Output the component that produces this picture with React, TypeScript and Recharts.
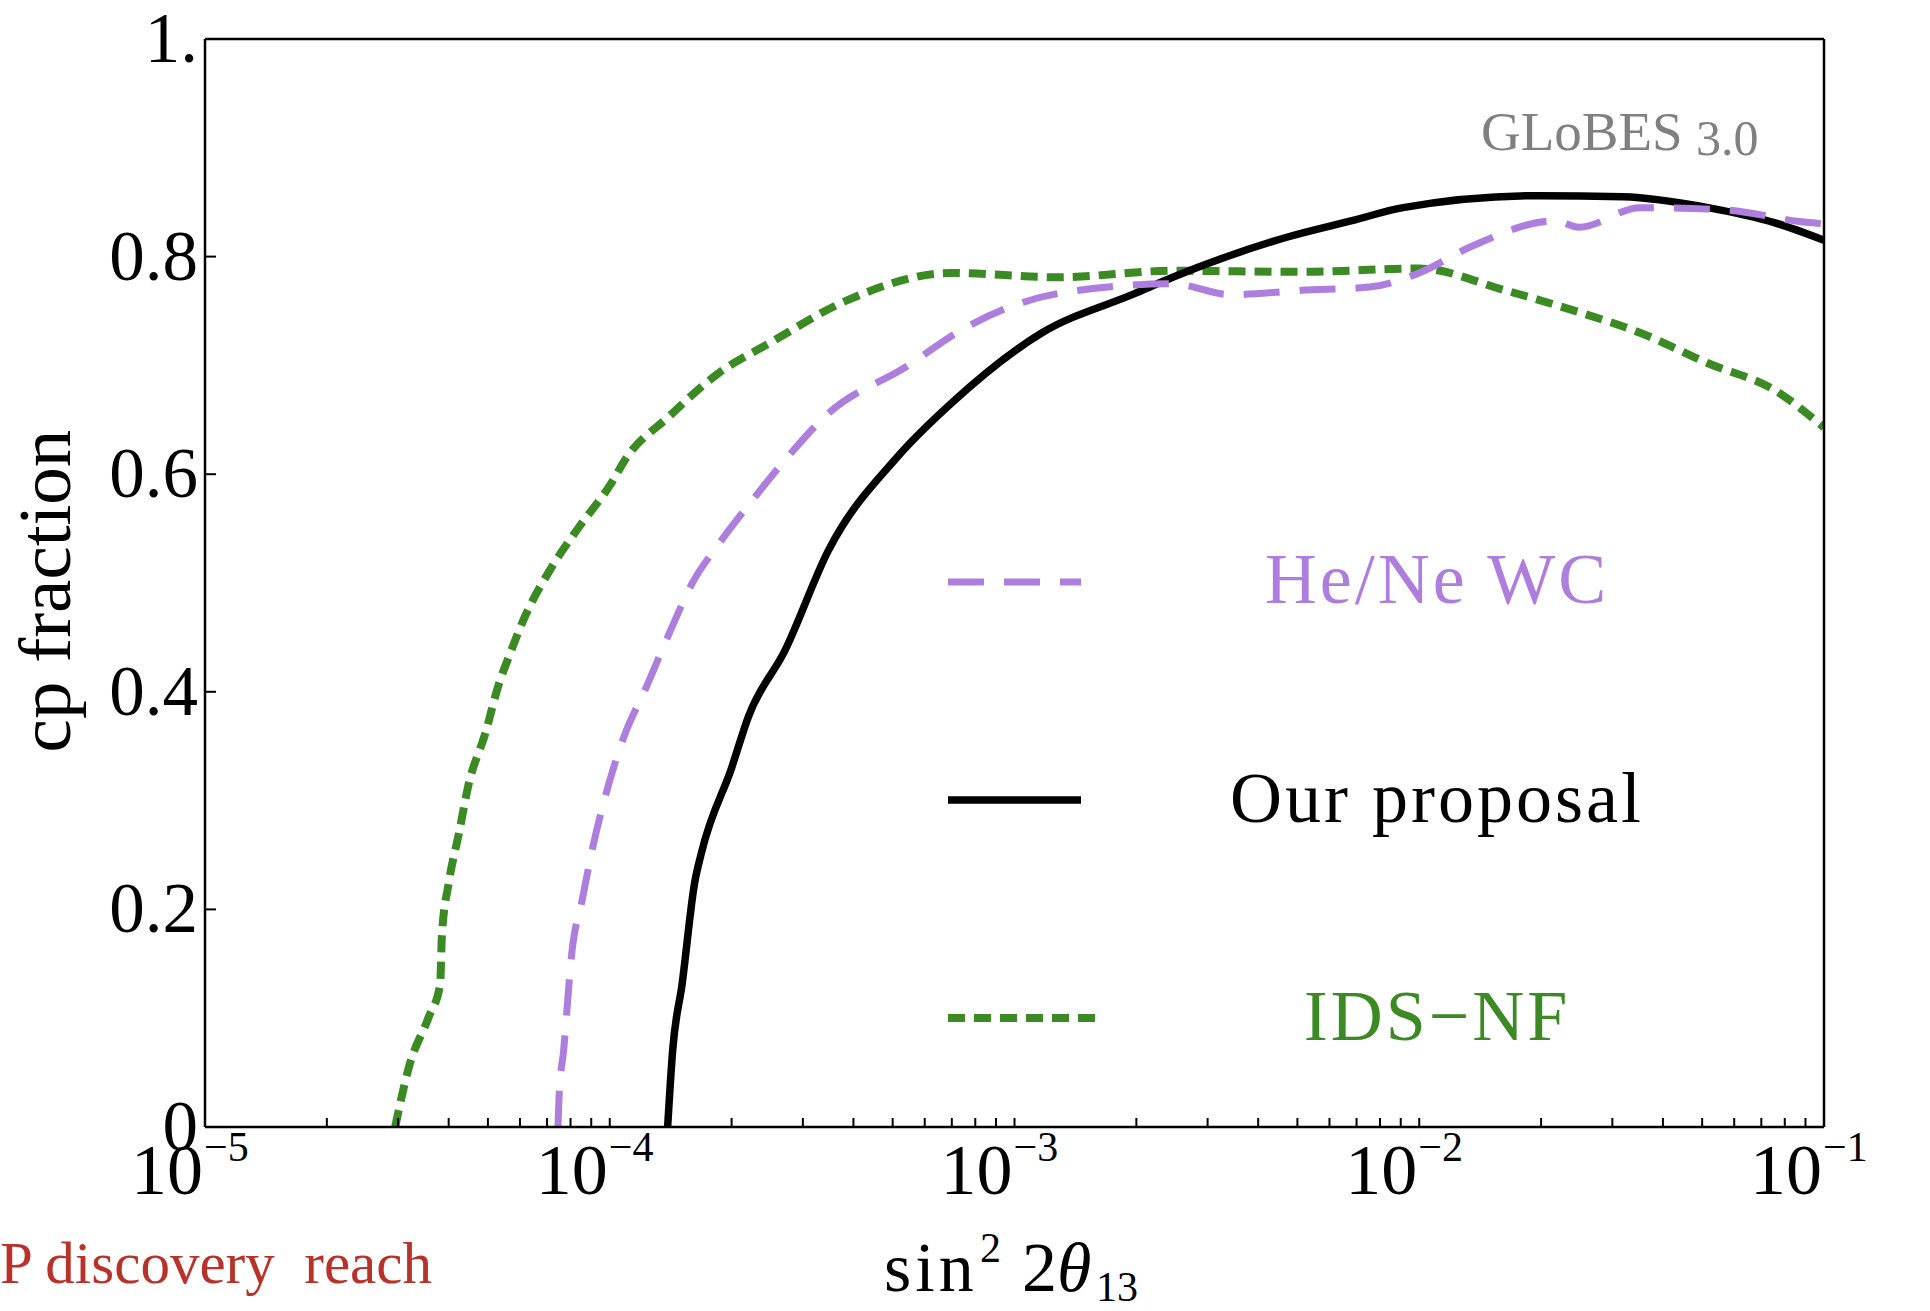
import { LineChart, Line, XAxis, YAxis, ReferenceLine } from "recharts"

const W = 1930
const H = 1311
const FONT = "'Liberation Serif', 'Times New Roman', serif"

// He/Ne WC (lavender, long dashes)
const heNeX = [7.45e-5, 7.5e-5, 7.69e-5, 8.07e-5, 8.54e-5, 9.04e-5, 9.94e-5, 1.09e-4, 1.22e-4, 1.4e-4, 1.6e-4, 1.86e-4, 2.25e-4, 2.71e-4, 3.47e-4, 5.36e-4, 7.59e-4, 1.28e-3, 2.46e-3, 3.41e-3, 5.13e-3, 7.54e-3, 1.0e-2, 1.34e-2, 2.17e-2, 2.48e-2, 3.51e-2, 5.68e-2, 8.82e-2, 1.0e-1]
const heNeY = [0, 0.03, 0.07, 0.162, 0.208, 0.254, 0.315, 0.361, 0.401, 0.453, 0.5, 0.536, 0.576, 0.613, 0.656, 0.698, 0.735, 0.766, 0.775, 0.765, 0.769, 0.772, 0.785, 0.809, 0.833, 0.827, 0.845, 0.843, 0.832, 0.83]

// Our proposal (black, solid)
const oursX = [1.39e-4, 1.43e-4, 1.51e-4, 1.62e-4, 1.69e-4, 2.0e-4, 2.2e-4, 2.71e-4, 3.47e-4, 5.14e-4, 6.97e-4, 1.17e-3, 1.98e-3, 2.46e-3, 4.73e-3, 6.82e-3, 9.12e-3, 1.98e-2, 3.19e-2, 5.17e-2, 7.57e-2, 1.0e-1]
const oursY = [0, 0.07, 0.132, 0.224, 0.254, 0.33, 0.377, 0.438, 0.53, 0.616, 0.665, 0.73, 0.766, 0.781, 0.818, 0.833, 0.845, 0.856, 0.855, 0.845, 0.831, 0.815]

// IDS-NF (green, short dashes)
const idsX = [2.95e-5, 3.19e-5, 3.57e-5, 3.81e-5, 3.85e-5, 4.0e-5, 4.24e-5, 4.48e-5, 4.92e-5, 5.32e-5, 5.63e-5, 6.17e-5, 7.2e-5, 8.38e-5, 1.01e-4, 1.09e-4, 1.4e-4, 1.86e-4, 2.47e-4, 3.87e-4, 6.97e-4, 1.28e-3, 2.46e-3, 5.13e-3, 1.0e-2, 1.63e-2, 2.38e-2, 3.51e-2, 5.17e-2, 7.57e-2, 1.0e-1]
const idsY = [0, 0.055, 0.101, 0.131, 0.177, 0.224, 0.27, 0.315, 0.361, 0.407, 0.432, 0.469, 0.515, 0.551, 0.592, 0.613, 0.653, 0.693, 0.72, 0.76, 0.785, 0.781, 0.787, 0.786, 0.789, 0.769, 0.751, 0.73, 0.702, 0.677, 0.643]

// axis ticks
const xMajorTicks = [1e-5, 1e-4, 1e-3, 1e-2, 1e-1]
const xMajorExp = ["\u22125", "\u22124", "\u22123", "\u22122", "\u22121"]
const xMinorMantissa = [2, 3, 4, 5, 6, 7, 8, 9]
const yTicks = [0, 0.2, 0.4, 0.6, 0.8, 1]
const yTickLabels = ["0", "0.2", "0.4", "0.6", "0.8", "1."]

const xTicks = [
  ...xMajorTicks,
  ...xMajorTicks.slice(0, -1).flatMap((d) => xMinorMantissa.map((m) => d * m)),
].sort((a, b) => a - b)

const toPoints = (xs: number[], ys: number[]) => xs.map((x, i) => ({ x, y: ys[i] }))

const series = [
  { key: "ids", name: "IDS\u2212NF", data: toPoints(idsX, idsY), color: "#3b8a24", dash: "17 9", width: 8 },
  { key: "ours", name: "Our proposal", data: toPoints(oursX, oursY), color: "#000000", dash: undefined, width: 7.5 },
  { key: "hene", name: "He/Ne WC", data: toPoints(heNeX, heNeY), color: "#ad7edd", dash: "36 20", width: 7 },
]

// legend rows, top to bottom
const legendRows = [
  { key: "hene", lineY: 582, textY: 603, x2: 1081 },
  { key: "ours", lineY: 800, textY: 822, x2: 1081 },
  { key: "ids", lineY: 1018, textY: 1040, x2: 1098 },
]

const XTick = (props: any) => {
  const { x, y, payload } = props
  const i = xMajorTicks.indexOf(payload.value)
  return (
    <g>
      <line x1={x} y1={y} x2={x} y2={y - 9} stroke="#000" strokeWidth={2} />
      {i >= 0 && (
        <>
          <text x={x - 2} y={y + 67} textAnchor="end" fontSize={72} fontFamily={FONT} fill="#000">
            10
          </text>
          <text x={x - 1} y={y + 34} textAnchor="start" fontSize={42} fontFamily={FONT} fill="#000">
            {xMajorExp[i]}
          </text>
        </>
      )}
    </g>
  )
}

const YTickLeft = (props: any) => {
  const { x, y, payload } = props
  const i = yTicks.indexOf(payload.value)
  return (
    <g>
      <line x1={x} y1={y} x2={x + 11} y2={y} stroke="#000" strokeWidth={2} />
      <text x={x - 7} y={y + 23} textAnchor="end" fontSize={71} fontFamily={FONT} fill="#000">
        {yTickLabels[i]}
      </text>
    </g>
  )
}

const YTickRight = (props: any) => {
  const { x, y, payload } = props
  const i = yTicks.indexOf(payload.value)
  return (
    <g>
      <line x1={x} y1={y} x2={x - 11} y2={y} stroke="#000" strokeWidth={2} />
      <text x={x + 2} y={y + 23} textAnchor="start" fontSize={71} fontFamily={FONT} fill="#000">
        {yTickLabels[i]}
      </text>
    </g>
  )
}

export default function App() {
  return (
    <div style={{ position: "absolute", left: 0, top: 0, width: W, height: H, background: "#fff" }}>
      <LineChart width={W} height={H} margin={{ top: 39, right: 6, bottom: 84, left: 105 }}>
        <XAxis
          xAxisId="b"
          type="number"
          dataKey="x"
          scale="log"
          domain={[1e-5, 0.1]}
          allowDataOverflow
          ticks={xTicks}
          interval={0}
          height={100}
          tick={<XTick />}
          tickLine={false}
          tickSize={0}
          tickMargin={0}
          axisLine={{ stroke: "#000", strokeWidth: 2.5 }}
        />
        <YAxis
          yAxisId="l"
          type="number"
          domain={[0, 1]}
          ticks={yTicks}
          interval={0}
          width={100}
          tick={<YTickLeft />}
          tickLine={false}
          tickSize={0}
          tickMargin={0}
          axisLine={{ stroke: "#000", strokeWidth: 2.5 }}
        />
        <YAxis
          yAxisId="r"
          orientation="right"
          type="number"
          domain={[0, 1]}
          ticks={yTicks}
          interval={0}
          width={100}
          tick={<YTickRight />}
          tickLine={false}
          tickSize={0}
          tickMargin={0}
          axisLine={{ stroke: "#000", strokeWidth: 2.5 }}
        />
        <ReferenceLine xAxisId="b" yAxisId="l" y={1} stroke="#000" strokeWidth={2.5} />
        {series.map((s) => (
          <Line
            key={s.key}
            xAxisId="b"
            yAxisId="l"
            data={s.data}
            dataKey="y"
            type="monotone"
            stroke={s.color}
            strokeWidth={s.width}
            strokeDasharray={s.dash}
            dot={false}
            activeDot={false}
            isAnimationActive={false}
          />
        ))}
      </LineChart>

      <svg
        width={W}
        height={H}
        style={{ position: "absolute", left: 0, top: 0, pointerEvents: "none" }}
        fontFamily={FONT}
      >
        <text transform="translate(70,591) rotate(-90)" textAnchor="middle" fontSize={75} fill="#000">
          cp fraction
        </text>
        <text y={1291} fontSize={70} fill="#000">
          <tspan x={884} letterSpacing={4}>sin</tspan>
          <tspan x={980} y={1262} fontSize={42}>2</tspan>
          <tspan x={1022} y={1291}>2</tspan>
          <tspan fontStyle="italic">{"\u03b8"}</tspan>
          <tspan x={1096} y={1301} fontSize={42}>13</tspan>
        </text>
        <text x={1481} y={150} fontSize={55} fill="#808080">
          GLoBES
          <tspan x={1696} y={155} fontSize={50}>3.0</tspan>
        </text>
        <text x={0} y={1283} fontSize={59} fill="#b8322a" style={{ whiteSpace: "pre" }}>
          P discovery  reach
        </text>
        {legendRows.map((r) => {
          const s = series.find((q) => q.key === r.key)!
          return (
            <g key={r.key}>
              <line x1={948} y1={r.lineY} x2={r.x2} y2={r.lineY} stroke={s.color} strokeWidth={s.width} strokeDasharray={s.dash} />
              <text x={1437} y={r.textY} textAnchor="middle" fontSize={72} letterSpacing={3} fill={s.color}>
                {s.name}
              </text>
            </g>
          )
        })}
      </svg>
    </div>
  )
}
